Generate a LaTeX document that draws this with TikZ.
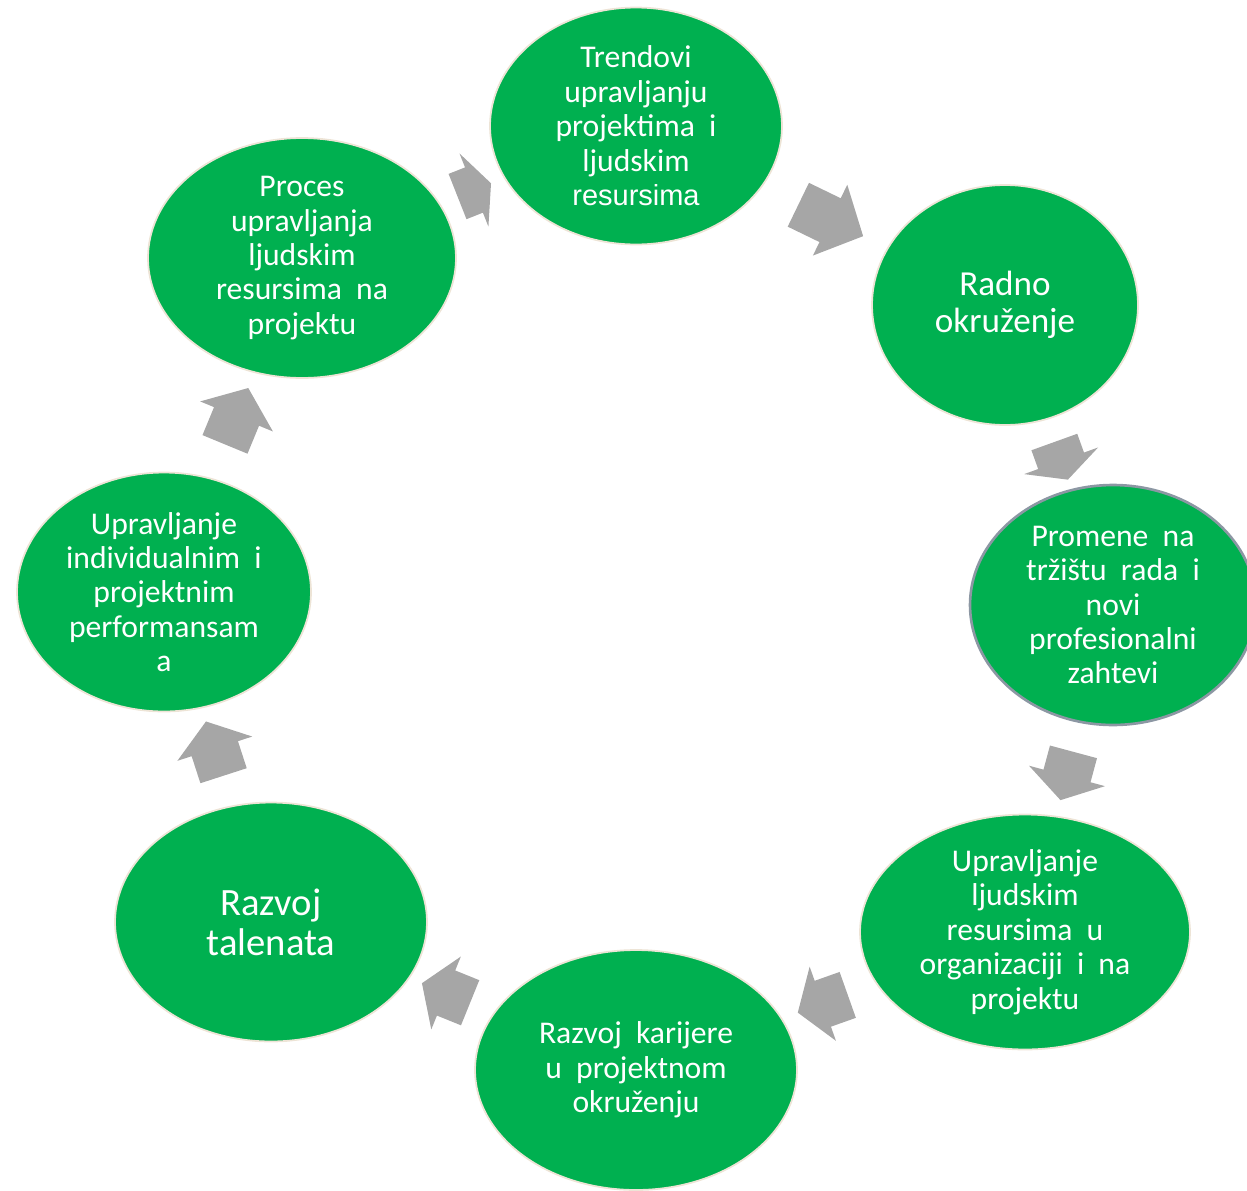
\documentclass[tikz,border=0pt]{standalone}
\usepackage{fontspec}
\setmainfont{Carlito}
\newfontfamily\arialfont{Liberation Sans}
\usetikzlibrary{shapes.geometric,shapes.arrows,calc}
\definecolor{bubblegreen}{HTML}{00B050}
\definecolor{bubbleedge}{HTML}{EDE4D6}
\definecolor{ringgray}{HTML}{8C97A3}
\definecolor{flowgray}{HTML}{A6A6A6}
\newcommand\wordgap{\spaceskip=0.45em plus 0.1em\relax}

\begin{document}
\begin{tikzpicture}[x=0.02cm,y=-0.02cm,
  bubble/.style={ellipse,fill=bubblegreen,draw=bubbleedge,line width=1pt,inner sep=0pt},
  caption/.style={text=white,align=center,font=\fontsize{18}{19.6}\selectfont\wordgap},
  flow/.style={single arrow,fill=flowgray,draw=none,inner xsep=0pt,inner ysep=0.48cm,
    single arrow head extend=0.3cm}]
\useasboundingbox (0,0) rectangle (1247,1190);

\node[bubble,minimum width=5.84cm,minimum height=4.74cm] (trend) at (636,126) {};
\node[bubble,minimum width=5.32cm,minimum height=4.8cm] (radno) at (1005,305) {};
\node[bubble,draw=ringgray,line width=1.5pt,minimum width=5.72cm,minimum height=4.8cm] (promene) at (1113,605) {};
\node[bubble,minimum width=6.6cm,minimum height=4.7cm] (upr) at (1025,932) {};
\node[bubble,minimum width=6.44cm,minimum height=4.8cm] (karijera) at (636,1070) {};
\node[bubble,minimum width=6.24cm,minimum height=4.78cm] (talenti) at (271,922) {};
\node[bubble,minimum width=5.88cm,minimum height=4.78cm] (indiv) at (164,592) {};
\node[bubble,minimum width=6.16cm,minimum height=4.8cm] (proces) at (302,258) {};

\node[caption] at (trend) {Trendovi\\upravljanju\\projektima i\\ljudskim\\{\arialfont\fontsize{16.5}{19.6}\selectfont resursima}};
\node[caption,font=\fontsize{20}{20.9}\selectfont\wordgap] at (radno) {Radno\\okruženje};
\node[caption] at (promene) {Promene na\\tržištu rada i\\novi\\profesionalni\\zahtevi};
\node[caption] at (upr) {Upravljanje\\ljudskim\\resursima u\\organizaciji i na\\projektu};
\node[caption] at (karijera) {Razvoj karijere\\u projektnom\\okruženju};
\node[caption,font=\fontsize{22}{22.6}\selectfont\wordgap] at (talenti) {Razvoj\\talenata};
\node[caption] at (indiv) {Upravljanje\\individualnim i\\projektnim\\performansam\\a};
\node[caption] at (proces) {Proces\\upravljanja\\ljudskim\\resursima na\\projektu};

\foreach \a/\b/\len/\tip in {proces/trend/36/130, trend/radno/72/94, radno/promene/40/126,
    promene/upr/50/115, upr/karijera/53/112, karijera/talenti/52/113,
    talenti/indiv/57/108, indiv/proces/61/104}
  \path let \p1=($(\b)-(\a)$), \n1={atan2(\y1,\x1)} in
    node[flow,minimum height=\len*0.02cm,single arrow tip angle=\tip,rotate=\n1]
      at ($(\a)!0.5!(\b)$) {};
\end{tikzpicture}
\end{document}
